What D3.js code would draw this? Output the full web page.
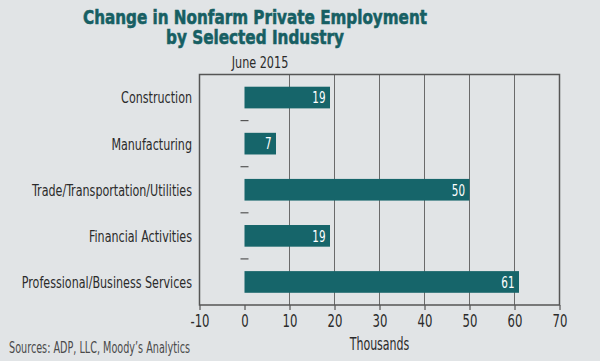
<!DOCTYPE html>
<html>
<head>
<meta charset="utf-8">
<script src="https://cdn.jsdelivr.net/npm/d3@7"></script>
<style>
  html, body { margin: 0; padding: 0; background: #e1e4e6; }
  svg { display: block; }
</style>
</head>
<body>
<svg id="chart" width="600" height="361"></svg>
<script>
const categories = ["Construction", "Manufacturing", "Trade/Transportation/Utilities", "Financial Activities", "Professional/Business Services"];
const values = [19, 7, 50, 19, 61];
const xTicks = [-10, 0, 10, 20, 30, 40, 50, 60, 70];
const gridTicks = [10, 20, 30, 40, 50, 60];
const titleLines = ["Change in Nonfarm Private Employment", "by Selected Industry"];
const subtitle = "June 2015";
const xLabel = "Thousands";
const source = "Sources: ADP, LLC, Moody\u2019s Analytics";

const condensed = "'DejaVu Sans Condensed', 'Liberation Sans Narrow', sans-serif";
const teal = "#16656a";
const titleCol = "#175f63";
const textCol = "#2b2b2b";
const lineCol = "#555";

// horizontally compress text to mimic a narrow typeface
function squeeze(sel, factor) {
  sel.each(function() {
    const w = this.getComputedTextLength();
    d3.select(this).attr("textLength", w * factor).attr("lengthAdjust", "spacingAndGlyphs");
  });
}
function fitTo(sel, width) {
  sel.attr("textLength", width).attr("lengthAdjust", "spacingAndGlyphs");
}

const svg = d3.select("#chart");
svg.append("rect").attr("width", 600).attr("height", 361).attr("fill", "#e1e4e6");

const pLeft = 199.5, pRight = 559.5, pTop = 74.5, pBottom = 305;
const x = d3.scaleLinear().domain([-10, 70]).range([pLeft, pRight]);
const y = d3.scaleBand().domain(categories).range([pTop, pBottom]).paddingInner(0.53).paddingOuter(0.265);

// title
const titleWidths = [344, 178];
titleLines.forEach((t, i) => {
  const tt = svg.append("text").attr("x", 255).attr("y", 24 + i * 19.5).attr("text-anchor", "middle")
    .attr("font-family", "'DejaVu Sans', sans-serif")
    .attr("font-weight", "bold").attr("font-size", 19.5).attr("fill", titleCol)
    .attr("stroke", titleCol).attr("stroke-width", 0.6).text(t);
  fitTo(tt, titleWidths[i]);
});

const sub = svg.append("text").attr("x", 260).attr("y", 68).attr("text-anchor", "middle")
  .attr("font-family", condensed).attr("font-size", 16).attr("fill", textCol).text(subtitle);
squeeze(sub, 0.78);

// gridlines
svg.append("g").selectAll("line").data(gridTicks).join("line")
  .attr("x1", d => x(d)).attr("x2", d => x(d)).attr("y1", pTop).attr("y2", pBottom)
  .attr("stroke", "#6a6a6a").attr("stroke-width", 1);

// bottom axis ticks + labels
const xAxis = d3.axisBottom(x).tickValues(xTicks).tickSize(5).tickPadding(4).tickFormat(d3.format("d"));
const gx = svg.append("g").attr("transform", `translate(0,${pBottom})`).call(xAxis);
gx.select(".domain").remove();
gx.selectAll(".tick line").attr("stroke", lineCol).attr("stroke-width", 1.2);
gx.selectAll(".tick text").text(d => String(d)).attr("font-family", condensed).attr("font-size", 18).attr("fill", textCol);
squeeze(gx.selectAll(".tick text"), 0.72);

// border
svg.append("rect").attr("x", pLeft).attr("y", pTop).attr("width", pRight - pLeft).attr("height", pBottom - pTop)
  .attr("fill", "none").attr("stroke", lineCol).attr("stroke-width", 1.5);

// band separator ticks at zero
const sepY = categories.slice(1).map(c => y(c) - y.step() * y.paddingInner() / 2);
svg.append("g").selectAll("line").data(sepY).join("line")
  .attr("x1", x(0) - 4).attr("x2", x(0) + 4).attr("y1", d => d).attr("y2", d => d)
  .attr("stroke", lineCol).attr("stroke-width", 1.2);

// category labels
const catLabels = svg.append("g").selectAll("text").data(categories).join("text")
  .attr("x", 192).attr("y", d => y(d) + y.bandwidth() / 2).attr("dy", "0.36em")
  .attr("text-anchor", "end").attr("font-family", condensed).attr("font-size", 16.5)
  .attr("fill", textCol).text(d => d);
squeeze(catLabels, 0.75);

// bars
const data = categories.map((c, i) => ({ c, v: values[i] }));
svg.append("g").selectAll("rect").data(data).join("rect")
  .attr("x", x(0)).attr("y", d => y(d.c)).attr("width", d => x(d.v) - x(0)).attr("height", y.bandwidth())
  .attr("fill", teal);

const valLabels = svg.append("g").selectAll("text").data(data).join("text")
  .attr("x", d => x(d.v) - 4.5).attr("y", d => y(d.c) + y.bandwidth() / 2).attr("dy", "0.36em")
  .attr("text-anchor", "end").attr("font-family", condensed).attr("font-size", 16)
  .attr("fill", "#fff").text(d => d.v);
squeeze(valLabels, 0.72);

const xl = svg.append("text").attr("x", (pLeft + pRight) / 2).attr("y", 350).attr("text-anchor", "middle")
  .attr("font-family", condensed).attr("font-size", 17).attr("fill", textCol).text(xLabel);
squeeze(xl, 0.72);

const src = svg.append("text").attr("x", 9).attr("y", 353)
  .attr("font-family", condensed).attr("font-size", 16).attr("fill", "#4a4a4a").text(source);
fitTo(src, 181);
</script>
</body>
</html>
